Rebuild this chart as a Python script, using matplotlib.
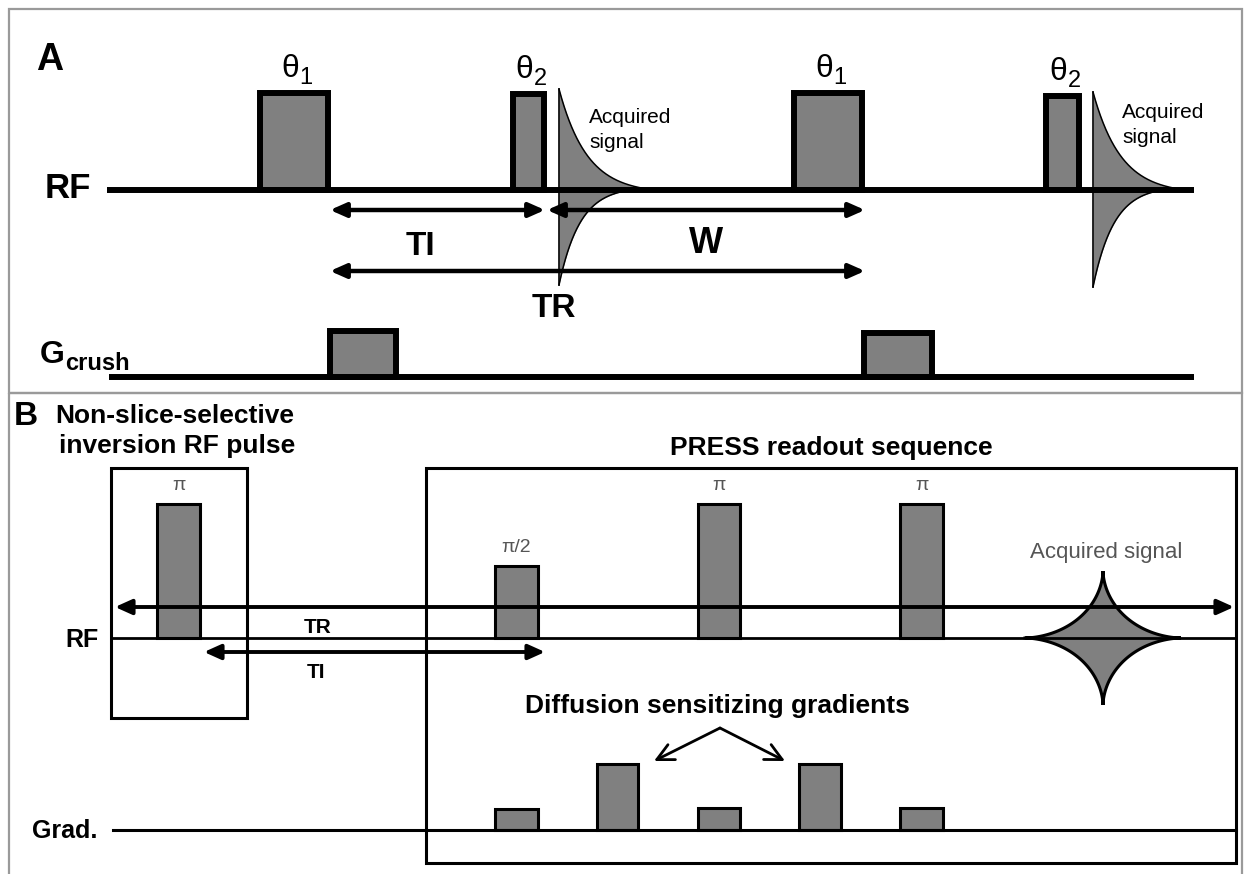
import numpy as np
import matplotlib.pyplot as plt
from matplotlib.patches import Rectangle, FancyArrowPatch, Polygon

plt.rcParams['font.family'] = ['Liberation Sans', 'DejaVu Sans']

W_PX, H_PX = 1245, 874
GRAY = '#808080'
PX = 100 / 72  # pixels per point at dpi 100

# ---- panel A: inversion-recovery timing ----
rf_a_y = 190
rf_a_span = (107, 1194)
a_pulses = [(257, 331, 90, '1'), (510, 547, 91, '2'),
            (791, 865, 90, '1'), (1043, 1082, 93, '2')]
a_fids = [(559, 89, 285, 95), (1093, 92, 287, 92)]     # x0, top, bottom, length
a_acq_text = [(589, 123), (1122, 118)]
crush_y = 377
crush_span = (109, 1194)
crushers = [(327, 399, 328), (861, 935, 330)]
a_arrows = [(330, 545, 210), (547, 865, 210), (330, 865, 271)]
a_arrow_labels = [('TI', 420, 255, 24), ('W', 706, 253, 26), ('TR', 554, 317, 24)]

# ---- panel B: inversion + PRESS with diffusion gradients ----
rf_b_y = 638
rf_b_span = (111, 1236)
grad_y = 830
grad_span = (113, 1236)
b_pulses = [(155, 202, 502, 'π'), (493, 540, 564, 'π/2'),
            (696, 742, 502, 'π'), (898, 945, 502, 'π')]
b_grads = [(493, 540, 807), (595, 640, 762), (696, 742, 806),
           (797, 843, 762), (898, 945, 806)]
inv_box = (111, 468, 247, 718)
press_box = (426, 468, 1236, 863)
b_arrows = [(115, 1234, 607), (204, 545, 652)]
b_arrow_labels = [('TR', 318, 633), ('TI', 316, 678)]
echo_center = (1103, 638)
echo_half = (78, 67)

fig = plt.figure(figsize=(W_PX / 100, H_PX / 100), dpi=100)
ax = fig.add_axes([0, 0, 1, 1])
ax.set_xlim(0, W_PX)
ax.set_ylim(H_PX, 0)
ax.axis('off')


def pulse(l, r, top, base, lw):
    d = lw * PX / 2
    ax.add_patch(Rectangle((l + d, top + d), r - l - 2 * d, base - top - d,
                           fc=GRAY, ec='black', lw=lw, joinstyle='miter', zorder=2))


def arrow(x1, x2, y, lw, hl, hw):
    ax.add_patch(FancyArrowPatch((x1, y), (x2, y),
                                 arrowstyle=f'<|-|>,head_length={hl},head_width={hw}',
                                 mutation_scale=10, lw=lw, color='black',
                                 shrinkA=0, shrinkB=0, zorder=5))


def decay(L, tau, n=300):
    t = np.linspace(0, L, n)
    return t, (np.exp(-t / tau) - np.exp(-L / tau)) / (1 - np.exp(-L / tau))


# panel frames
for (x0, y0, x1, y1) in [(9, 9, 1242, 393), (9, 393, 1242, 890)]:
    ax.add_patch(Rectangle((x0, y0), x1 - x0, y1 - y0, fill=False,
                           ec='#9a9a9a', lw=1.6, zorder=0))

# ---- A ----
ax.text(36, 70, 'A', fontsize=27, fontweight='bold', ha='left', va='baseline')
ax.text(91, 198, 'RF', fontsize=25, fontweight='bold', ha='right', va='baseline')
ax.text(40, 363, 'G', fontsize=23, fontweight='bold', ha='left', va='baseline')
ax.text(65, 370, 'crush', fontsize=17, fontweight='bold', ha='left', va='baseline')

ax.plot(rf_a_span, [rf_a_y, rf_a_y], color='black', lw=4.3, solid_capstyle='butt', zorder=3)
ax.plot(crush_span, [crush_y, crush_y], color='black', lw=4.3, solid_capstyle='butt', zorder=3)

for l, r, top, sub in a_pulses:
    pulse(l, r, top, rf_a_y, 4.3)
    c = (l + r) / 2 + 5
    ax.text(c, top - 13, 'θ', fontsize=23, ha='right', va='baseline')
    ax.text(c, top - 6, sub, fontsize=17, ha='left', va='baseline')

for l, r, top in crushers:
    pulse(l, r, top, crush_y, 4.3)

for x0, top, bottom, L in a_fids:
    tu, pu = decay(L, 28.0)
    td, pd = decay(L * 0.75, 21.0)
    up = rf_a_y - (rf_a_y - top) * pu
    dn = rf_a_y + (bottom - rf_a_y) * pd
    ax.fill_between(x0 + tu, up, rf_a_y, color=GRAY, lw=0, zorder=1)
    ax.fill_between(x0 + td, rf_a_y, dn, color=GRAY, lw=0, zorder=1)
    ax.plot(x0 + tu, up, color='black', lw=1.1, zorder=2)
    ax.plot(x0 + td, dn, color='black', lw=1.1, zorder=2)
    ax.plot([x0, x0], [top, bottom], color='black', lw=1.2, zorder=2)

for x, y in a_acq_text:
    ax.text(x, y, 'Acquired', fontsize=15, ha='left', va='baseline')
    ax.text(x, y + 25, 'signal', fontsize=15, ha='left', va='baseline')

for x1, x2, y in a_arrows:
    arrow(x1, x2, y, 3.2, 0.95, 0.42)
for s, x, y, fs in a_arrow_labels:
    ax.text(x, y, s, fontsize=fs, fontweight='bold', ha='center', va='baseline')

# ---- B ----
ax.text(14, 425, 'B', fontsize=24, fontweight='bold', ha='left', va='baseline')
ax.text(175, 423, 'Non-slice-selective', fontsize=19, fontweight='bold',
        ha='center', va='baseline')
ax.text(177, 453, 'inversion RF pulse', fontsize=19, fontweight='bold',
        ha='center', va='baseline')
ax.text(831, 455, 'PRESS readout sequence', fontsize=19, fontweight='bold',
        ha='center', va='baseline')
ax.text(99, 647, 'RF', fontsize=18, fontweight='bold', ha='right', va='baseline')
ax.text(97, 838, 'Grad.', fontsize=18, fontweight='bold', ha='right', va='baseline')

for (x0, y0, x1, y1) in [inv_box, press_box]:
    ax.add_patch(Rectangle((x0, y0), x1 - x0, y1 - y0, fill=False,
                           ec='black', lw=2.2, joinstyle='miter', zorder=3))

ax.plot(rf_b_span, [rf_b_y, rf_b_y], color='black', lw=2.0, zorder=3)
ax.plot(grad_span, [grad_y, grad_y], color='black', lw=2.2, zorder=3)

for l, r, top, lab in b_pulses:
    pulse(l, r, top, rf_b_y, 2.2)
    ax.text((l + r) / 2, top - 12, lab, fontsize=14, color='#555555',
            ha='center', va='baseline')

for l, r, top in b_grads:
    pulse(l, r, top, grad_y, 2.2)

# spin echo, a concave four-point star
cx, cy = echo_center
hw, hh = echo_half
s = np.linspace(0, 2 * np.pi, 800)
k = 2 / 0.58
ex = cx + hw * np.sign(np.cos(s)) * np.abs(np.cos(s)) ** k
ey = cy - hh * np.sign(np.sin(s)) * np.abs(np.sin(s)) ** k
ax.add_patch(Polygon(np.column_stack([ex, ey]), closed=True, fc=GRAY,
                     ec='black', lw=2.2, zorder=2))
ax.text(1106, 558, 'Acquired signal', fontsize=16, color='#555555',
        ha='center', va='baseline')

for x1, x2, y in b_arrows:
    arrow(x1, x2, y, 2.8, 1.0, 0.45)
for s_, x, y in b_arrow_labels:
    ax.text(x, y, s_, fontsize=15, fontweight='bold', ha='center', va='baseline')

ax.text(717, 713, 'Diffusion sensitizing gradients', fontsize=19, fontweight='bold',
        ha='center', va='baseline')
for end in [(654, 761), (785, 761)]:
    ax.add_patch(FancyArrowPatch((720, 728), end,
                                 arrowstyle='->,head_length=1.2,head_width=0.6',
                                 mutation_scale=10, lw=2.0, color='black',
                                 shrinkA=0, shrinkB=0, zorder=5))

fig.savefig('out.png', dpi=100)
